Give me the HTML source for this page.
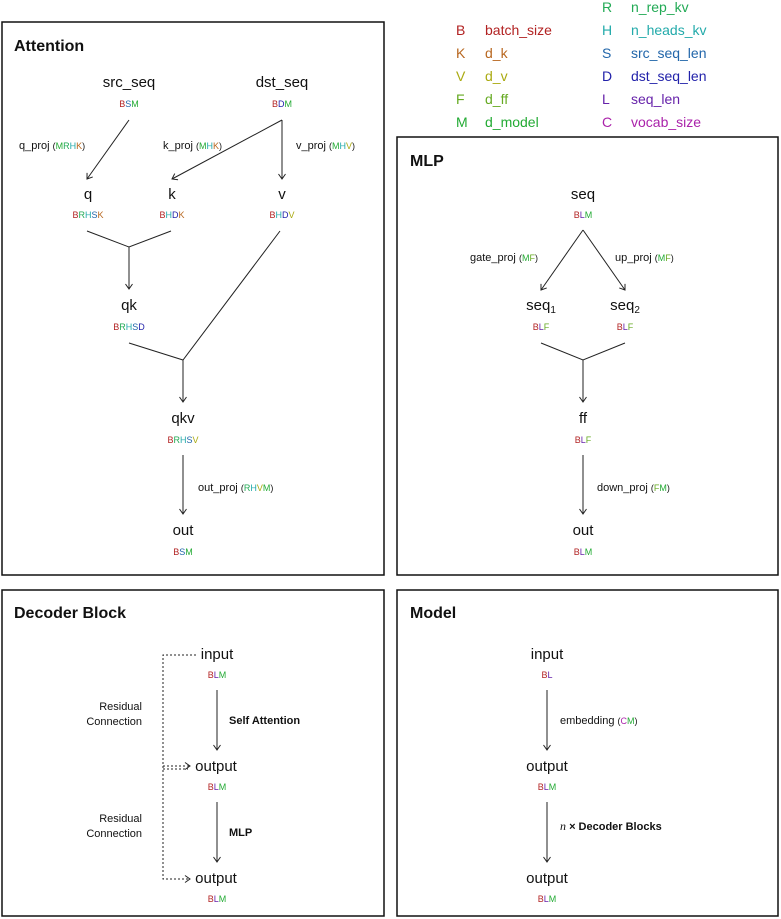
<!DOCTYPE html>
<html><head><meta charset="utf-8"><style>
body{margin:0;background:#fff;}
svg{display:block;font-family:"Liberation Sans",sans-serif;}
.n{font-size:15px;fill:#111;text-anchor:middle;}
.d{font-size:9px;text-anchor:middle;}
.e{font-size:11px;fill:#111;}
.t{font-size:16px;font-weight:bold;fill:#111;}
.lg{font-size:14px;}
.B{fill:#b22222}.K{fill:#b8671f}.V{fill:#aaaa11}.F{fill:#66aa22}.M{fill:#22aa33}.R{fill:#22aa55}.H{fill:#22aaaa}.S{fill:#2266aa}.D{fill:#2222aa}.L{fill:#6622aa}.C{fill:#aa22aa}
line,polyline{stroke:#222;stroke-width:1;fill:none;}
</style></head><body>
<svg width="781" height="919" viewBox="0 0 781 919">
<defs><marker id="a" markerWidth="10" markerHeight="10" refX="8" refY="5" orient="auto" markerUnits="userSpaceOnUse"><polyline points="3,1.5 8,5 3,8.5" style="stroke:#222;fill:none;stroke-width:1"/></marker></defs>
<rect x="2" y="22" width="382" height="553" fill="none" stroke="#111" stroke-width="1.5"/>
<rect x="397" y="137" width="381" height="438" fill="none" stroke="#111" stroke-width="1.5"/>
<rect x="2" y="590" width="382" height="326" fill="none" stroke="#111" stroke-width="1.5"/>
<rect x="397" y="590" width="381" height="326" fill="none" stroke="#111" stroke-width="1.5"/>
<!-- legend -->
<g class="lg">
<text x="456" y="35" class="B">B</text><text x="485" y="35" class="B">batch_size</text>
<text x="456" y="58" class="K">K</text><text x="485" y="58" class="K">d_k</text>
<text x="456" y="81" class="V">V</text><text x="485" y="81" class="V">d_v</text>
<text x="456" y="104" class="F">F</text><text x="485" y="104" class="F">d_ff</text>
<text x="456" y="127" class="M">M</text><text x="485" y="127" class="M">d_model</text>
<text x="602" y="12" class="R">R</text><text x="631" y="12" class="R">n_rep_kv</text>
<text x="602" y="35" class="H">H</text><text x="631" y="35" class="H">n_heads_kv</text>
<text x="602" y="58" class="S">S</text><text x="631" y="58" class="S">src_seq_len</text>
<text x="602" y="81" class="D">D</text><text x="631" y="81" class="D">dst_seq_len</text>
<text x="602" y="104" class="L">L</text><text x="631" y="104" class="L">seq_len</text>
<text x="602" y="127" class="C">C</text><text x="631" y="127" class="C">vocab_size</text>
</g>
<!-- Attention -->
<text x="14" y="51" class="t">Attention</text>
<text x="129" y="87" class="n">src_seq</text><text x="129" y="107" class="d"><tspan class="B">B</tspan><tspan class="S">S</tspan><tspan class="M">M</tspan></text>
<text x="282" y="87" class="n">dst_seq</text><text x="282" y="107" class="d"><tspan class="B">B</tspan><tspan class="D">D</tspan><tspan class="M">M</tspan></text>
<line x1="129" y1="120" x2="87" y2="179" marker-end="url(#a)"/>
<line x1="282" y1="120" x2="172" y2="179" marker-end="url(#a)"/>
<line x1="282" y1="120" x2="282" y2="179" marker-end="url(#a)"/>
<text x="19" y="149" class="e">q_proj <tspan font-size="9">(<tspan class="M">M</tspan><tspan class="R">R</tspan><tspan class="H">H</tspan><tspan class="K">K</tspan>)</tspan></text>
<text x="163" y="149" class="e">k_proj <tspan font-size="9">(<tspan class="M">M</tspan><tspan class="H">H</tspan><tspan class="K">K</tspan>)</tspan></text>
<text x="296" y="149" class="e">v_proj <tspan font-size="9">(<tspan class="M">M</tspan><tspan class="H">H</tspan><tspan class="V">V</tspan>)</tspan></text>
<text x="88" y="199" class="n">q</text><text x="88" y="218" class="d"><tspan class="B">B</tspan><tspan class="R">R</tspan><tspan class="H">H</tspan><tspan class="S">S</tspan><tspan class="K">K</tspan></text>
<text x="172" y="199" class="n">k</text><text x="172" y="218" class="d"><tspan class="B">B</tspan><tspan class="H">H</tspan><tspan class="D">D</tspan><tspan class="K">K</tspan></text>
<text x="282" y="199" class="n">v</text><text x="282" y="218" class="d"><tspan class="B">B</tspan><tspan class="H">H</tspan><tspan class="D">D</tspan><tspan class="V">V</tspan></text>
<polyline points="87,231 129,247 171,231"/>
<line x1="129" y1="247" x2="129" y2="289" marker-end="url(#a)"/>
<text x="129" y="310" class="n">qk</text><text x="129" y="330" class="d"><tspan class="B">B</tspan><tspan class="R">R</tspan><tspan class="H">H</tspan><tspan class="S">S</tspan><tspan class="D">D</tspan></text>
<polyline points="129,343 183,360 280,231"/>
<line x1="183" y1="360" x2="183" y2="402" marker-end="url(#a)"/>
<text x="183" y="423" class="n">qkv</text><text x="183" y="443" class="d"><tspan class="B">B</tspan><tspan class="R">R</tspan><tspan class="H">H</tspan><tspan class="S">S</tspan><tspan class="V">V</tspan></text>
<line x1="183" y1="455" x2="183" y2="514" marker-end="url(#a)"/>
<text x="198" y="491" class="e">out_proj <tspan font-size="9">(<tspan class="R">R</tspan><tspan class="H">H</tspan><tspan class="V">V</tspan><tspan class="M">M</tspan>)</tspan></text>
<text x="183" y="535" class="n">out</text><text x="183" y="555" class="d"><tspan class="B">B</tspan><tspan class="S">S</tspan><tspan class="M">M</tspan></text>
<!-- MLP -->
<text x="410" y="166" class="t">MLP</text>
<text x="583" y="199" class="n">seq</text><text x="583" y="218" class="d"><tspan class="B">B</tspan><tspan class="L">L</tspan><tspan class="M">M</tspan></text>
<line x1="583" y1="230" x2="541" y2="290" marker-end="url(#a)"/>
<line x1="583" y1="230" x2="625" y2="290" marker-end="url(#a)"/>
<text x="470" y="261" class="e">gate_proj <tspan font-size="9">(<tspan class="M">M</tspan><tspan class="F">F</tspan>)</tspan></text>
<text x="615" y="261" class="e">up_proj <tspan font-size="9">(<tspan class="M">M</tspan><tspan class="F">F</tspan>)</tspan></text>
<text x="541" y="310" class="n">seq<tspan font-size="10" dy="3">1</tspan></text><text x="541" y="330" class="d"><tspan class="B">B</tspan><tspan class="L">L</tspan><tspan class="F">F</tspan></text>
<text x="625" y="310" class="n">seq<tspan font-size="10" dy="3">2</tspan></text><text x="625" y="330" class="d"><tspan class="B">B</tspan><tspan class="L">L</tspan><tspan class="F">F</tspan></text>
<polyline points="541,343 583,360 625,343"/>
<line x1="583" y1="360" x2="583" y2="402" marker-end="url(#a)"/>
<text x="583" y="423" class="n">ff</text><text x="583" y="443" class="d"><tspan class="B">B</tspan><tspan class="L">L</tspan><tspan class="F">F</tspan></text>
<line x1="583" y1="455" x2="583" y2="514" marker-end="url(#a)"/>
<text x="597" y="491" class="e">down_proj <tspan font-size="9">(<tspan class="F">F</tspan><tspan class="M">M</tspan>)</tspan></text>
<text x="583" y="535" class="n">out</text><text x="583" y="555" class="d"><tspan class="B">B</tspan><tspan class="L">L</tspan><tspan class="M">M</tspan></text>
<!-- Decoder -->
<text x="14" y="618" class="t">Decoder Block</text>
<text x="217" y="659" class="n">input</text><text x="217" y="678" class="d"><tspan class="B">B</tspan><tspan class="L">L</tspan><tspan class="M">M</tspan></text>
<line x1="217" y1="690" x2="217" y2="750" marker-end="url(#a)"/>
<text x="229" y="724" class="e" font-weight="bold">Self Attention</text>
<text x="216" y="771" class="n">output</text><text x="217" y="790" class="d"><tspan class="B">B</tspan><tspan class="L">L</tspan><tspan class="M">M</tspan></text>
<line x1="217" y1="802" x2="217" y2="862" marker-end="url(#a)"/>
<text x="229" y="836" class="e" font-weight="bold">MLP</text>
<text x="216" y="883" class="n">output</text><text x="217" y="902" class="d"><tspan class="B">B</tspan><tspan class="L">L</tspan><tspan class="M">M</tspan></text>
<g style="stroke-dasharray:2,2">
<polyline points="196,655 163,655 163,879 190,879" marker-end="url(#a)"/>
<line x1="163" y1="766" x2="190" y2="766" marker-end="url(#a)"/>
<line x1="163" y1="769" x2="188" y2="769"/>
</g>
<text x="142" y="710" class="e" text-anchor="end">Residual</text><text x="142" y="725" class="e" text-anchor="end">Connection</text>
<text x="142" y="822" class="e" text-anchor="end">Residual</text><text x="142" y="837" class="e" text-anchor="end">Connection</text>
<!-- Model -->
<text x="410" y="618" class="t">Model</text>
<text x="547" y="659" class="n">input</text><text x="547" y="678" class="d"><tspan class="B">B</tspan><tspan class="L">L</tspan></text>
<line x1="547" y1="690" x2="547" y2="750" marker-end="url(#a)"/>
<text x="560" y="724" class="e">embedding <tspan font-size="9">(<tspan class="C">C</tspan><tspan class="M">M</tspan>)</tspan></text>
<text x="547" y="771" class="n">output</text><text x="547" y="790" class="d"><tspan class="B">B</tspan><tspan class="L">L</tspan><tspan class="M">M</tspan></text>
<line x1="547" y1="802" x2="547" y2="862" marker-end="url(#a)"/>
<text x="560" y="830" class="e"><tspan font-family="Liberation Serif" font-style="italic" font-size="12">n</tspan> <tspan font-weight="bold">× Decoder Blocks</tspan></text>
<text x="547" y="883" class="n">output</text><text x="547" y="902" class="d"><tspan class="B">B</tspan><tspan class="L">L</tspan><tspan class="M">M</tspan></text>
</svg>
</body></html>
